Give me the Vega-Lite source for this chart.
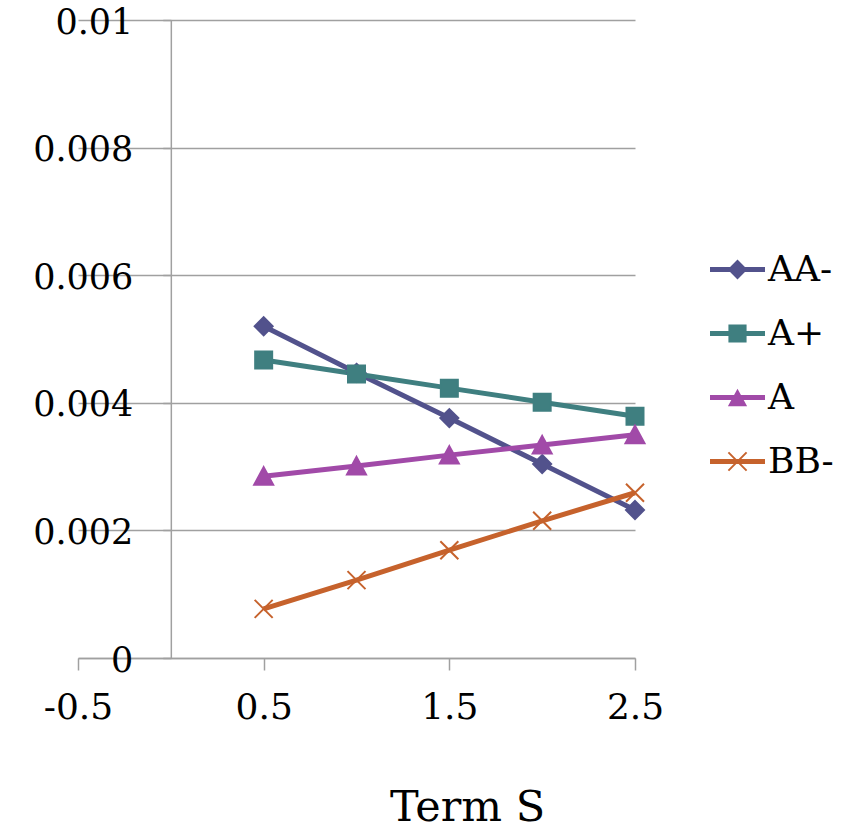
{
  "$schema": "https://vega.github.io/schema/vega-lite/v6.json",
  "width": 557,
  "height": 638,
  "autosize": {"type": "none"},
  "padding": {"left": 78, "top": 20, "right": 223, "bottom": 171},
  "config": {"view": {"stroke": null}, "font": "DejaVu Serif"},
  "data": {"values": [
    {"x": 0.5, "series": "AA-", "y": 0.0052},
    {"x": 1.0, "series": "AA-", "y": 0.00447},
    {"x": 1.5, "series": "AA-", "y": 0.00376},
    {"x": 2.0, "series": "AA-", "y": 0.00304},
    {"x": 2.5, "series": "AA-", "y": 0.00232},
    {"x": 0.5, "series": "A+", "y": 0.00467},
    {"x": 1.0, "series": "A+", "y": 0.00445},
    {"x": 1.5, "series": "A+", "y": 0.00423},
    {"x": 2.0, "series": "A+", "y": 0.00401},
    {"x": 2.5, "series": "A+", "y": 0.00379},
    {"x": 0.5, "series": "A", "y": 0.00285},
    {"x": 1.0, "series": "A", "y": 0.00301},
    {"x": 1.5, "series": "A", "y": 0.00318},
    {"x": 2.0, "series": "A", "y": 0.00334},
    {"x": 2.5, "series": "A", "y": 0.0035},
    {"x": 0.5, "series": "BB-", "y": 0.00077},
    {"x": 1.0, "series": "BB-", "y": 0.00122},
    {"x": 1.5, "series": "BB-", "y": 0.00169},
    {"x": 2.0, "series": "BB-", "y": 0.00215},
    {"x": 2.5, "series": "BB-", "y": 0.00259}
  ]},
  "encoding": {
    "x": {"field": "x", "type": "quantitative",
      "scale": {"domain": [-0.5, 2.5], "nice": false, "zero": false},
      "axis": {"values": [-0.5, 0.5, 1.5, 2.5],
        "labelExpr": "datum.value < 0 ? '-' + format(-datum.value, '.1f') : format(datum.value, '.1f')",
        "grid": false,
        "domainColor": "#A0A0A0", "domainWidth": 1.5, "tickColor": "#A0A0A0", "tickWidth": 1.5, "tickSize": 12,
        "labelFontSize": 36, "labelColor": "black", "labelPadding": 20, "labelFlush": false, "labelOverlap": false,
        "title": "Term S", "titleFontSize": 43, "titleFontWeight": "normal", "titleColor": "black",
        "titleX": 389, "titleY": 162, "titleBaseline": "alphabetic", "titleAlign": "center", "titleAnchor": null}},
    "y": {"field": "y", "type": "quantitative",
      "scale": {"domain": [0, 0.01], "nice": false},
      "axis": {"values": [0, 0.002, 0.004, 0.006, 0.008, 0.01], "format": ".3~f", "offset": -92.83,
        "grid": true, "gridColor": "#A0A0A0", "gridWidth": 1.5,
        "domainColor": "#A0A0A0", "domainWidth": 1.5, "tickColor": "#A0A0A0", "tickWidth": 1.5, "tickSize": 8,
        "labelFontSize": 35, "labelOffset": 2, "labelColor": "black", "labelPadding": 30, "labelOverlap": false, "labelFlush": false,
        "title": null}}
  },
  "layer": [
    {"mark": {"type": "line", "strokeWidth": 5},
     "encoding": {
       "color": {"field": "series", "type": "nominal",
         "scale": {"domain": ["AA-", "A+", "A", "BB-"], "range": ["#52528C", "#3F7F80", "#A14AA8", "#C6622C"]},
         "legend": null}}},
    {"mark": {"type": "point", "filled": true, "size": 400, "opacity": 1, "strokeWidth": 2},
     "encoding": {
       "color": {"field": "series", "type": "nominal",
         "scale": {"domain": ["AA-", "A+", "A", "BB-"], "range": ["#52528C", "#3F7F80", "#A14AA8", "#C6622C"]},
         "legend": null},
       "stroke": {"field": "series", "type": "nominal",
         "scale": {"domain": ["AA-", "A+", "A", "BB-"], "range": ["#52528C", "#3F7F80", "#A14AA8", "#C6622C"]},
         "legend": null},
       "shape": {"field": "series", "type": "nominal",
         "scale": {"domain": ["AA-", "A+", "A", "BB-"], "range": [
           "M0,-0.9L0.9,0L0,0.9L-0.9,0Z",
           "M-0.85,-0.85H0.85V0.85H-0.85Z",
           "M0,-0.9L0.95,0.85L-0.95,0.85Z",
           "M-0.9,-0.9L0.9,0.9M-0.9,0.9L0.9,-0.9"]},
         "legend": null}}},
    {"mark": {"type": "point", "filled": true, "size": 3025, "opacity": 0},
     "encoding": {
       "color": {"field": "series", "type": "nominal",
         "scale": {"domain": ["AA-", "A+", "A", "BB-"], "range": ["#52528C", "#3F7F80", "#A14AA8", "#C6622C"]},
         "legend": {"title": null, "orient": "none", "legendX": 632, "legendY": 222,
           "labelFontSize": 36, "labelColor": "black", "labelOffset": 3, "rowPadding": 18, "padding": 0,
           "symbolSize": 3025, "symbolOpacity": 1, "symbolStrokeWidth": 0}},
       "shape": {"field": "series", "type": "nominal",
         "scale": {"domain": ["AA-", "A+", "A", "BB-"], "range": [
           "M-1,-0.09H1V0.09H-1Z M0,-0.36L0.36,0L0,0.36L-0.36,0Z",
           "M-1,-0.09H1V0.09H-1Z M-0.33,-0.33H0.33V0.33H-0.33Z",
           "M-1,-0.09H1V0.09H-1Z M0,-0.32L0.35,0.32H-0.35Z",
           "M-1,-0.09H1V0.09H-1Z M-0.355,-0.305L-0.305,-0.355L0.355,0.305L0.305,0.355Z M-0.305,0.355L-0.355,0.305L0.305,-0.355L0.355,-0.305Z"]},
         "legend": {"title": null, "orient": "none", "legendX": 632, "legendY": 222,
           "labelFontSize": 36, "labelColor": "black", "labelOffset": 3, "rowPadding": 18, "padding": 0,
           "symbolSize": 3025, "symbolOpacity": 1, "symbolStrokeWidth": 0}}}}
  ],
  "resolve": {"scale": {"shape": "independent", "color": "independent"}}
}
